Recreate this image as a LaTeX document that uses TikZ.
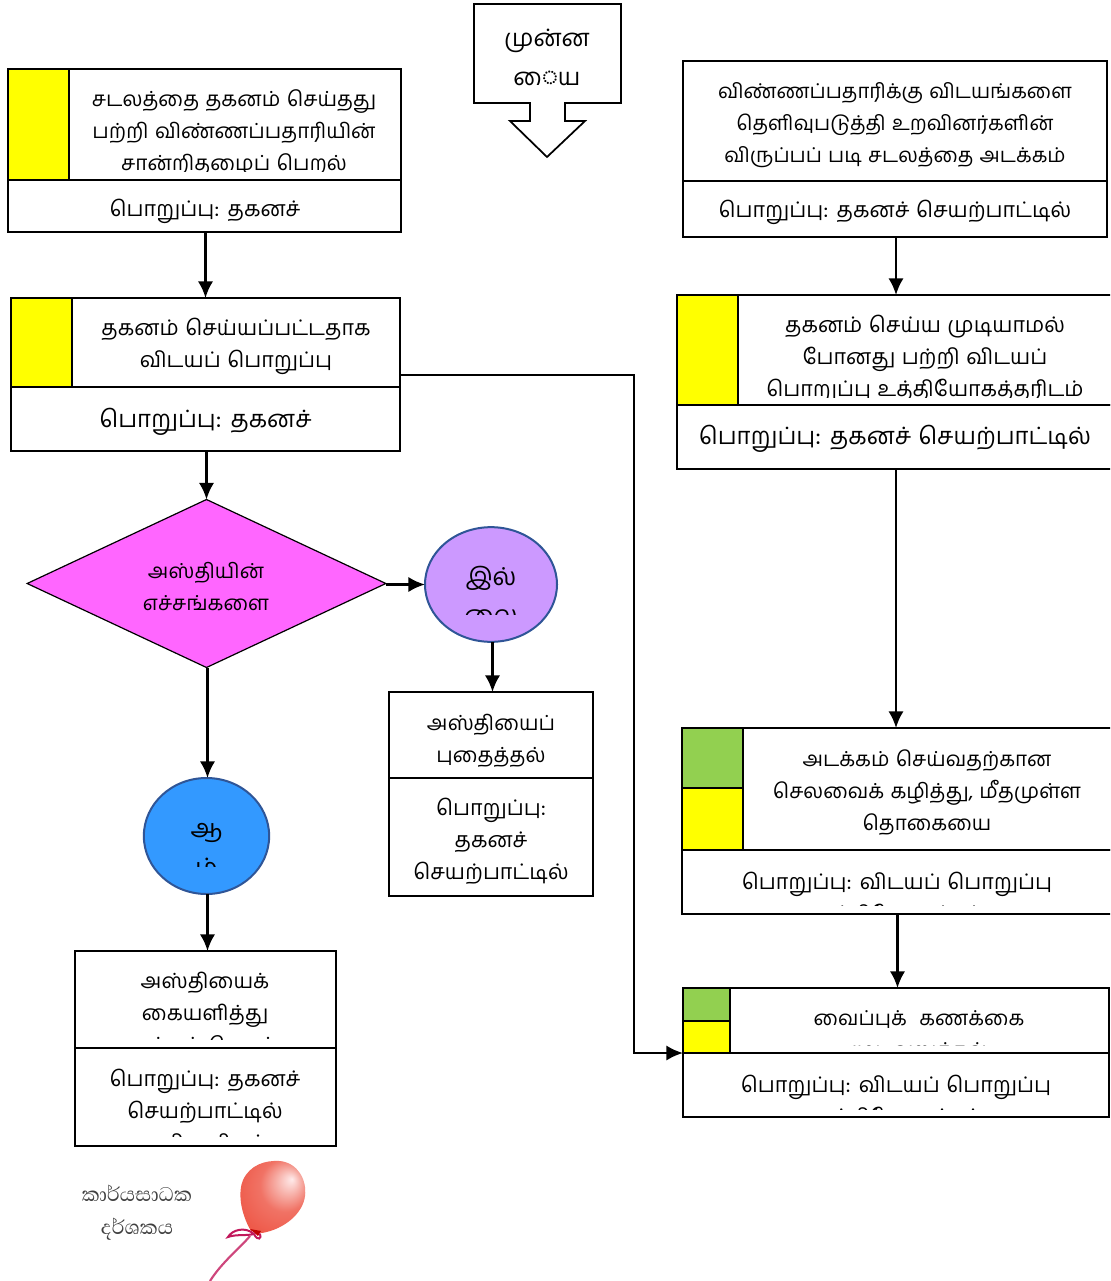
\documentclass[tikz,border=0pt]{standalone}
\usepackage{fontspec}
\usetikzlibrary{arrows.meta,shapes.geometric}
\newfontfamily\tamilf[Script=Tamil,WordSpace=1.25]{Hind Madurai}
\newfontfamily\sinhf[Script=Sinhala]{Abhaya Libre}
\definecolor{yel}{HTML}{FFFF00}
\definecolor{grn}{HTML}{92D050}
\definecolor{mag}{HTML}{FF66FF}
\definecolor{lil}{HTML}{CC99FF}
\definecolor{blu}{HTML}{3399FF}
\definecolor{edge}{HTML}{2F5597}
\definecolor{rib}{HTML}{C2185B}
\definecolor{bal}{HTML}{EE5A4A}
\definecolor{balo}{HTML}{E8483C}
\pgfdeclareradialshading{balloonshade}{\pgfpoint{14bp}{12bp}}{
  color(0bp)=(white!92!red);color(8bp)=(bal!45!white);color(18bp)=(bal!85!white);
  color(32bp)=(bal);color(50bp)=(balo)}
\tikzset{
  px/.style={x=0.75pt,y=-0.75pt},
  rbox/.style={draw=black,line width=1.3pt,rectangle,inner sep=0pt,outer sep=0pt,fill=white},
  swatch/.style={rbox,fill=yel},
  swatchg/.style={rbox,fill=grn},
  tx/.style={inner sep=0pt,outer sep=0pt,align=center,text=black,font=\tamilf\fontsize{16.1}{24}\selectfont},
  txs/.style={tx,font=\tamilf\fontsize{#1}{24}\selectfont},
  txbig/.style={tx,font=\tamilf\fontsize{17.9}{24}\selectfont},
  txhuge/.style={tx,font=\tamilf\fontsize{18}{29}\selectfont},
  conn/.style={line width=1.9pt,draw=black,-{Latex[length=12.5pt,width=11.5pt]}},
  disc/.style={ellipse,draw=edge,line width=1.5pt,inner sep=0pt,outer sep=0pt},
}
\newcommand{\bx}[6][rbox]{%
  \pgfmathsetmacro\cxx{(#3+#5)/2}\pgfmathsetmacro\cyy{(#4+#6)/2}%
  \pgfmathsetmacro\ww{(#5-#3)*0.75}\pgfmathsetmacro\hh{(#6-#4)*0.75}%
  \node[#1,minimum width=\ww pt,minimum height=\hh pt] (#2) at (\cxx,\cyy) {};}
\begin{document}
\begin{tikzpicture}[px]
\clip (0,0) rectangle (1110,1281);
\fill[white] (0,0) rectangle (1110,1281);

% start arrow
\draw[line width=1.3pt,line join=miter] (474,4) -- (621,4) -- (621,103) -- (565,103) -- (565,121) -- (585,121) -- (547,157) -- (510,121) -- (530,121) -- (530,103) -- (474,103) -- cycle;
\node[txhuge] (st1) at (547,40.5) {முன்ன};
\node[txhuge] (st2) at (547,78) {ைய};

% box A
\bx{A}{8}{69}{401}{180}
\bx{Al}{8}{180}{401}{232}
\bx[swatch]{Ay}{8}{69}{69}{180}
\begin{scope}\clip (70,70) rectangle (400,171);
\node[txs=15.6] (At) at (234,133) {சடலத்தை தகனம் செய்தது\\பற்றி விண்ணப்பதாரியின்\\சான்றிதழைப் பெறல்};
\end{scope}
\node[tx] (Alt) at (205,211) {பொறுப்பு: தகனச்};

% box B
\bx{B}{11}{298}{400}{387}
\bx{Bl}{11}{387}{400}{451}
\bx[swatch]{By}{11}{298}{72}{387}
\node[tx] (Bt) at (236,346) {தகனம் செய்யப்பட்டதாக\\விடயப் பொறுப்பு};
\node[txbig] (Blt) at (205.5,421.5) {பொறுப்பு: தகனச்};

% decision
\node[diamond,draw=black,line width=0.9pt,fill=mag,inner sep=0pt,outer sep=0pt,minimum width=269pt,minimum height=126pt,aspect=2.1] (D) at (206.5,583.5) {};
\node[txs=15.5] (Dt) at (206,586.5) {அஸ்தியின்\\எச்சங்களை};

% no
\node[disc,fill=lil,minimum width=99pt,minimum height=86pt] (N) at (491,584.5) {};
\begin{scope}\clip (430,540) rectangle (550,614);
\node[txhuge,font=\tamilf\fontsize{18.5}{29}\selectfont] (Nt) at (491,595) {இல்\\லை};
\end{scope}

% yes
\node[disc,fill=blu,minimum width=94pt,minimum height=87pt] (Y) at (206.5,836) {};
\begin{scope}\clip (150,800) rectangle (262,866);
\node[txhuge,font=\tamilf\fontsize{19}{29}\selectfont] (Yt) at (206.5,850) {ஆ\\ம்};
\end{scope}

% box C
\bx{C}{389}{692}{593}{778}
\bx{Cl}{389}{778}{593}{896}
\node[txs=15.6] (Ct) at (491,740.5) {அஸ்தியைப்\\புதைத்தல்};
\node[tx] (Clt) at (491,841) {பொறுப்பு:\\தகனச்\\செயற்பாட்டில்};

% box D
\bx{Dn}{75}{951}{336}{1048}
\bx{Dl}{75}{1048}{336}{1146}
\begin{scope}\clip (77,953) rectangle (334,1039);
\node[txs=15.7] (Dnt) at (205,1015) {அஸ்தியைக்\\கையளித்து\\ஒப்பம் பெறல்};
\end{scope}
\begin{scope}\clip (77,1050) rectangle (334,1136);
\node[tx] (Dlt) at (205,1112.5) {பொறுப்பு: தகனச்\\செயற்பாட்டில்\\அதிகாரிகள்};
\end{scope}

% box E
\bx{E}{683}{61}{1107}{181}
\bx{El}{683}{181}{1107}{237}
\node[txs=15.3] (Et) at (895,125) {விண்ணப்பதாரிக்கு விடயங்களை\\தெளிவுபடுத்தி உறவினர்களின்\\விருப்பப் படி சடலத்தை அடக்கம்};
\node[tx] (Elt) at (895,212) {பொறுப்பு: தகனச் செயற்பாட்டில்};

% box F
\bx{F}{677}{295}{1115}{405}
\bx{Fl}{677}{405}{1115}{469}
\bx[swatch]{Fy}{677}{295}{738}{405}
\begin{scope}\clip (740,297) rectangle (1110,397);
\node[tx] (Ft) at (925,359) {தகனம் செய்ய முடியாமல்\\போனது பற்றி விடயப்\\பொறுப்பு உத்தியோகத்தரிடம்};
\end{scope}
\node[txbig] (Flt) at (895,438.5) {பொறுப்பு: தகனச் செயற்பாட்டில்};

% box G
\bx{G}{682}{728}{1113}{850}
\bx{Gl}{682}{850}{1113}{914}
\bx[swatchg]{Gg}{682}{728}{743}{788}
\bx[swatch]{Gy}{682}{788}{743}{850}
\node[txs=15.5] (Gt) at (927,792.5) {அடக்கம் செய்வதற்கான\\செலவைக் கழித்து, மீதமுள்ள\\தொகையை};
\begin{scope}\clip (684,852) rectangle (1110,905);
\node[tx] (Glt) at (897,899) {பொறுப்பு: விடயப் பொறுப்பு\\உத்தியோகத்தர்};
\end{scope}

% box H
\bx{H}{683}{988}{1109}{1053}
\bx{Hl}{683}{1053}{1109}{1117}
\bx[swatchg]{Hg}{683}{988}{730}{1021}
\bx[swatch]{Hy}{683}{1021}{730}{1053}
\begin{scope}\clip (732,990) rectangle (1107,1045);
\node[txs=15.4] (Ht) at (919,1037) {வைப்புக்~~கணக்கை\\முடிவுறுத்தல்};
\end{scope}
\begin{scope}\clip (685,1055) rectangle (1107,1109);
\node[tx] (Hlt) at (896,1102) {பொறுப்பு: விடயப் பொறுப்பு\\உத்தியோகத்தர்};
\end{scope}

% connectors
\coordinate (colx) at (207.5,0);
\coordinate (colr) at (492.5,0);
\draw[conn] (Al.south -| B.north) -- (B.north);
\draw[conn] (Bl.south) -- (Bl.south -| D.north) -- (D.north);
\draw[conn] (N.west -| D.east) -- (N.west);
\draw[conn] (D.south -| colx) -- (Y.north -| colx);
\draw[conn] (Y.south -| colx) -- (Dn.north -| colx);
\draw[conn] (N.south -| colr) -- (C.north -| colr);
\coordinate (bend1) at (634,375);
\draw[conn] (B.east |- bend1) -- (bend1) |- (Hl.north west);
\draw[conn] (El.south -| F.north) -- (F.north);
\draw[conn] (Fl.south) -- (Fl.south |- G.north);
\draw[conn] (Gl.south) -- (Gl.south |- H.north);

% performance indicator image
\node[inner sep=0pt,text=black!75,align=center,font=\sinhf\fontsize{19}{25}\selectfont] (si) at (137,1213) {කාර්යසාධක\\දර්ශකය};
\coordinate (knot) at (251,1231);
\shade[shading=balloonshade] (knot) .. controls (240,1212) and (238,1192) .. (243,1180) .. controls (250,1165) and (265,1160) .. (280,1161) .. controls (298,1163) and (307,1180) .. (305,1196) .. controls (303,1213) and (285,1229) .. (262,1233) -- cycle;
\fill[red!75!black] (250,1229) -- (261,1231) -- (258,1236) -- cycle;
\draw[rib,line width=1.5pt,line cap=round] (254,1234) .. controls (245,1226) and (232,1230) .. (228,1237) .. controls (236,1234) and (246,1236) .. (254,1234) .. controls (258,1242) and (262,1238) .. (260,1234);
\draw[rib!80!white,line width=1.6pt] (250,1236) .. controls (240,1248) and (222,1262) .. (210,1281);
\end{tikzpicture}
\end{document}
